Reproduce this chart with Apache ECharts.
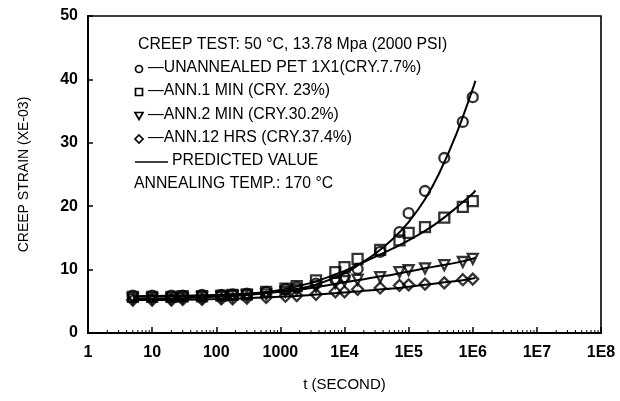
<!DOCTYPE html>
<html><head><meta charset="utf-8">
<script src="https://cdn.jsdelivr.net/npm/echarts@6/dist/echarts.min.js"></script>
<style>html,body{margin:0;padding:0;background:#fff}#c{width:620px;height:401px}</style>
</head><body><div id="c"></div>
<script>
// ---- data ----
const times = [5,10,20,30,60,120,180,300,600,1200,1800,3600,7200,10000,16000,36000,72000,100000,180000,360000,700000,1000000];
const unannealed = [5.9,5.9,5.9,5.9,6.0,6.0,6.1,6.2,6.5,6.9,7.2,7.8,8.4,8.8,10.1,12.8,15.9,18.9,22.4,27.6,33.3,37.2];
const ann1min   = [5.7,5.7,5.7,5.8,5.8,5.9,6.0,6.1,6.5,7.0,7.4,8.3,9.6,10.4,11.7,13.1,14.6,15.8,16.7,18.2,19.9,20.8];
const ann2min   = [5.4,5.4,5.4,5.5,5.6,5.7,5.8,5.9,6.1,6.5,6.8,7.3,7.9,8.2,8.4,8.8,9.6,9.9,10.2,10.7,11.2,11.7];
const ann12hrs  = [5.2,5.2,5.2,5.3,5.3,5.4,5.4,5.5,5.6,5.8,5.9,6.1,6.5,6.5,6.9,7.1,7.5,7.6,7.7,7.9,8.4,8.5];

const predTimes = [5,10,30,100,300,1000,3000,10000,18000,30000,56000,100000,180000,300000,560000,1000000,1100000];
const predUnannealed = [5.8,5.85,5.9,6.0,6.2,6.6,7.4,9.4,11.0,12.5,14.8,17.5,21.1,25.2,31.5,38.5,39.8];
const predAnn1min    = [5.7,5.75,5.8,5.95,6.2,6.8,7.9,9.8,11.0,12.0,13.3,14.6,16.1,17.6,19.8,22.0,22.5];
const predAnn2min    = [5.35,5.4,5.5,5.7,6.0,6.5,7.1,8.0,8.4,8.8,9.2,9.7,10.2,10.6,11.1,11.7,11.9];
const predAnn12hrs   = [5.15,5.2,5.25,5.35,5.5,5.7,6.0,6.4,6.6,6.8,7.0,7.3,7.6,7.9,8.2,8.6,8.7];

const xTickLabels = ["1","10","100","1000","1E4","1E5","1E6","1E7","1E8"];
const yTicks = [0,10,20,30,40,50];
const minorMultipliers = [2,3,4,5,6,7,8,9];
const decades = [1,10,100,1000,1e4,1e5,1e6,1e7];

const legendLines = [
  "CREEP TEST: 50 °C, 13.78 Mpa (2000 PSI)",
  "—UNANNEALED PET 1X1(CRY.7.7%)",
  "—ANN.1 MIN (CRY. 23%)",
  "—ANN.2 MIN (CRY.30.2%)",
  "—ANN.12 HRS (CRY.37.4%)",
  "PREDICTED VALUE",
  "ANNEALING TEMP.: 170 °C"
];

// ---- build ----
const FONT = "'Liberation Sans', Arial, sans-serif";
const minorTicks = [];
decades.forEach(d => minorMultipliers.forEach(m => minorTicks.push([d*m, 0])));
const zip = (xs, ys) => xs.map((x,i)=>[x, ys[i]]);

const chart = echarts.init(document.getElementById('c'), null, {renderer:'canvas'});
const symStyle = {color:'rgba(255,255,255,0)', borderColor:'#000', borderWidth:2.3};
const lineSeries = (d) => ({type:'line', data:d, smooth:0.4, symbol:'none', lineStyle:{color:'#000', width:2}, z:2, silent:true});
const scat = (d, sym, size, rot) => ({type:'scatter', data:d, symbol:sym, symbolSize:size, symbolRotate:rot||0, itemStyle:symStyle, z:3, silent:true});

const ly = [46,69,92,116,139,162,185];
const TF = '15.8px '+FONT;
const graphic = [];
graphic.push({type:'text', left:138, top:ly[0]-9, style:{text:legendLines[0], font:TF, fill:'#000'}});
[1,2,3,4].forEach(i => graphic.push({type:'text', left:148, top:ly[i]-9, style:{text:legendLines[i], font:TF, fill:'#000'}}));
graphic.push({type:'text', left:172, top:ly[5]-9, style:{text:legendLines[5], font:TF, fill:'#000'}});
graphic.push({type:'text', left:134, top:ly[6]-9, style:{text:legendLines[6], font:TF, fill:'#000'}});
const ls = {fill:'none', stroke:'#000', lineWidth:1.7};
graphic.push({type:'circle', shape:{cx:139, cy:ly[1], r:3.5}, style:ls});
graphic.push({type:'rect', shape:{x:135.5, y:ly[2]-3.5, width:7, height:7}, style:ls});
graphic.push({type:'polygon', shape:{points:[[135,ly[3]-3.5],[143,ly[3]-3.5],[139,ly[3]+3.5]]}, style:ls});
graphic.push({type:'polygon', shape:{points:[[139,ly[4]-4],[143,ly[4]],[139,ly[4]+4],[135,ly[4]]]}, style:ls});
graphic.push({type:'line', shape:{x1:135, y1:ly[5], x2:168, y2:ly[5]}, style:{stroke:'#000', lineWidth:1.5}});

chart.setOption({
  animation:false,
  backgroundColor:'#fff',
  grid:{left:88, right:19, top:16, bottom:68, show:true, borderColor:'#000', borderWidth:1.6},
  xAxis:{
    type:'log', logBase:10, min:1, max:1e8,
    axisLine:{lineStyle:{color:'#000', width:2}},
    axisTick:{inside:true, length:6, lineStyle:{color:'#000', width:1.5}},
    minorTick:{show:false},
    splitLine:{show:false},
    axisLabel:{color:'#000', fontFamily:FONT, fontWeight:'bold', fontSize:16, margin:12,
      formatter: v => xTickLabels[Math.round(Math.log10(v))]},
    name:'t (SECOND)', nameLocation:'middle', nameGap:44,
    nameTextStyle:{color:'#000', fontFamily:FONT, fontSize:15}
  },
  yAxis:{
    type:'value', min:yTicks[0], max:yTicks[yTicks.length-1], interval:10,
    axisLine:{show:true, lineStyle:{color:'#000', width:2}},
    axisTick:{show:true, inside:true, length:5, lineStyle:{color:'#000', width:1.5}},
    splitLine:{show:false},
    axisLabel:{color:'#000', fontFamily:FONT, fontWeight:'bold', fontSize:16, margin:10},
    name:'CREEP STRAIN (XE-03)', nameLocation:'middle', nameGap:57,
    nameTextStyle:{color:'#000', fontFamily:FONT, fontSize:14}
  },
  graphic: graphic,
  series:[
    {type:'custom', data:minorTicks, silent:true, z:4, clip:false,
      renderItem:(p, api) => {
        const pt = api.coord([api.value(0), 0]);
        return {type:'line', shape:{x1:pt[0], y1:pt[1], x2:pt[0], y2:pt[1]-3}, style:{stroke:'#000', lineWidth:1}};
      }},
    lineSeries(zip(predTimes, predUnannealed)),
    lineSeries(zip(predTimes, predAnn1min)),
    lineSeries(zip(predTimes, predAnn2min)),
    lineSeries(zip(predTimes, predAnn12hrs)),
    scat(zip(times, unannealed), 'circle', 10),
    scat(zip(times, ann1min), 'rect', 10),
    scat(zip(times, ann2min), 'triangle', 10, 180),
    scat(zip(times, ann12hrs), 'diamond', [11,11])
  ]
});
</script></body></html>
